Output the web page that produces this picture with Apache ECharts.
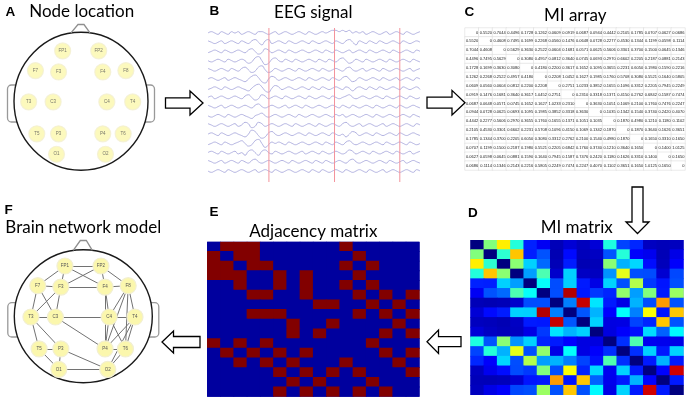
<!DOCTYPE html>
<html><head><meta charset="utf-8">
<script src="https://cdn.jsdelivr.net/npm/echarts@6/dist/echarts.min.js"></script>
<style>html,body{margin:0;padding:0;background:#fff}#c{width:686px;height:400px}</style>
</head><body><div id="c"></div>
<script>
// ---------------- data ----------------
const channels = ['FP1','FP2','F3','F4','C3','C4','P3','P4','O1','O2','F7','F8','T3','T4','T5','T6'];
// electrode positions on the head (head radius = 1, y up)
const nodeX = [-0.27, 0.26, -0.33, 0.32, -0.41, 0.38, -0.33, 0.32, -0.36, 0.36, -0.67, 0.66, -0.77, 0.76, -0.65, 0.62];
const nodeY = [ 0.74, 0.74,  0.43, 0.43, -0.01,-0.01, -0.48,-0.48, -0.78,-0.78,  0.45, 0.45, -0.01,-0.01, -0.48,-0.48];

// mutual information, upper triangle (row i, columns i+1..15)
const miUpper = [
 [0.5520,0.7044,0.4496,0.1728,0.1262,0.0609,0.0919,0.0687,0.0944,0.4442,0.2105,0.1785,0.0707,0.0627,0.0686],
 [0.4608,0.7495,0.1699,0.2268,0.0560,0.1476,0.0648,0.0728,0.2277,0.4530,0.1344,0.1199,0.0598,0.1114],
 [0.5629,0.3630,0.2522,0.0604,0.1681,0.0571,0.0625,0.5606,0.3301,0.3700,0.1500,0.0645,0.1346],
 [0.3080,0.4957,0.0812,0.3640,0.0745,0.0693,0.2970,0.6602,0.2205,0.2187,0.0881,0.2143],
 [0.4180,0.2200,0.3617,0.1652,0.1095,0.3655,0.2231,0.6050,0.1980,0.1590,0.2216],
 [0.2208,1.0452,0.1627,0.1985,0.1760,0.5708,0.3080,0.5521,0.1640,0.5805],
 [0.2751,1.0233,0.3852,0.1655,0.1096,0.3312,0.2205,0.7945,0.2249],
 [0.2310,0.3318,0.1371,0.4150,0.2762,0.6842,0.1587,0.7474],
 [0.3630,0.1051,0.1069,0.2100,0.1760,0.7476,0.2247],
 [0.1035,0.1342,0.1540,0.3740,0.2420,0.4070],
 [0.1870,0.4980,0.1210,0.1180,0.1102],
 [0.1870,0.3640,0.1626,0.3651],
 [0.1650,0.3310,0.1650],
 [0.1400,1.0125],
 [0.1650]
];

// binary adjacency matrix (thresholded MI)
const adjacency = [
 [0,1,1,1,0,0,0,0,0,0,1,0,0,0,0,0],
 [1,0,1,1,0,0,0,0,0,0,0,1,0,0,0,0],
 [1,1,0,1,1,0,0,0,0,0,1,0,1,0,0,0],
 [1,1,1,0,0,1,0,1,0,0,0,1,0,0,0,0],
 [0,0,1,0,0,1,0,1,0,0,1,0,1,0,0,0],
 [0,0,0,1,1,0,0,1,0,0,0,1,0,1,0,1],
 [0,0,0,0,0,0,0,0,1,1,0,0,1,0,1,0],
 [0,0,0,1,1,1,0,0,0,0,0,1,0,1,0,1],
 [0,0,0,0,0,0,1,0,0,1,0,0,0,0,1,0],
 [0,0,0,0,0,0,1,0,1,0,0,0,0,1,0,1],
 [1,0,1,0,1,0,0,0,0,0,0,0,1,0,0,0],
 [0,1,0,1,0,1,0,1,0,0,0,0,0,1,0,1],
 [0,0,1,0,1,0,1,0,0,0,1,0,0,0,1,0],
 [0,0,0,0,0,1,0,1,0,1,0,1,0,0,0,1],
 [0,0,0,0,0,0,1,0,1,0,0,0,1,0,0,0],
 [0,0,0,0,0,1,0,1,0,1,0,1,0,1,0,0]
];

// EEG traces (16 channels, 64 samples each)
const eeg0  = [0,1,0,-1,1,0,-1,1, 0,1,-1,0,1,0,-1,1, 1,0,-1,0,1,-1,0,1, 0,-1,0,1,0,-1,1,0, -1,0,1,0,1,2,2,1, 2,1,2,0,1,0,1,-1, 0,1,0,-1,0,1,-1,0, 1,0,-1,1,0,-1,0,1];
const eeg1  = [1,0,-1,0,1,-1,0,1, 0,-1,1,0,-1,1,2,0, -2,1,2,-1,0,1,0,-1, 1,0,-1,0,1,0,-1,1, 0,-1,0,1,0,-1,1,0, -1,1,2,0,-2,1,0,-1, 1,0,-1,1,0,-1,0,1, 0,-1,1,0,-1,0,1,0];
const eeg2  = [-1,0,1,0,-1,1,0,-1, 0,1,0,-1,1,2,0,-2, -1,2,1,-1,0,1,0,-1, 1,0,-1,0,1,0,-1,0, 1,0,-1,1,0,-1,1,0, -1,0,1,-1,0,1,0,-1, 1,0,-1,0,1,0,-1,1, 0,-1,0,1,0,-1,1,0];
const eeg3  = [0,-1,0,1,0,-1,1,0, -1,0,1,0,-2,-1,2,3, 0,-3,-2,1,2,0,-1,1, 0,-1,1,0,-1,0,1,0, -1,1,0,-1,1,0,-1,1, 2,0,-2,-1,1,0,-1,1, 0,-1,0,1,0,-1,1,0, -1,0,1,0,-1,1,0,-1];
const eeg4  = [1,0,-1,0,1,0,-1,1, 0,-1,1,2,0,-2,-1,2, 3,0,-2,-1,1,0,-1,0, 1,0,-1,1,0,-1,0,1, 0,-1,1,0,-1,0,1,0, -1,1,2,0,-1,0,1,-1, 0,1,0,-1,1,0,-1,0, 1,0,-1,0,1,-1,0,1];
const eeg5  = [0,1,0,-1,0,1,-1,0, 1,0,-1,-2,0,2,3,1, -2,-3,0,2,1,-1,0,1, 0,-1,0,1,0,-1,1,0, -1,0,1,0,-1,1,0,-1, 1,2,0,-2,-1,1,0,-1, 0,1,0,-1,1,0,-1,0, 1,-1,0,1,0,-1,1,0];
const eeg6  = [-1,0,1,0,-1,1,0,-1, 0,1,0,-1,-2,0,2,3, 1,-2,-3,0,2,1,-1,0, 1,0,-1,0,1,0,-1,1, 0,-1,1,0,-1,0,1,0, -1,1,0,-2,0,1,0,-1, 1,0,-1,1,0,-1,0,1, 0,-1,1,0,-1,0,1,-1];
const eeg7  = [0,1,-1,0,1,0,-1,0, 1,0,-1,1,2,0,-2,-1, 2,1,-1,0,1,0,-1,1, 0,-1,0,1,0,-1,1,0, -1,0,1,0,-1,1,0,-1, 0,1,2,0,-1,0,1,0, -1,0,1,0,-1,1,0,-1, 0,1,0,-1,1,0,-1,0];
const eeg8  = [1,0,-1,0,1,-1,0,1, 0,-1,0,1,0,-1,1,2, 0,-1,0,1,0,-1,0,1, -1,0,1,0,-1,1,0,-1, 0,1,0,-1,0,1,0,-1, 1,0,-1,1,0,-1,0,1, 0,-1,1,0,-1,0,1,0, -1,1,0,-1,0,1,0,-1];
const eeg9  = [0,-1,0,1,0,-1,1,0, -1,0,1,0,-1,-2,0,1, 2,0,-1,0,1,0,-1,0, 1,0,-1,1,0,-1,0,1, 0,-1,0,1,0,-1,1,0, 1,-1,0,1,0,-1,0,1, 0,-1,1,0,-1,0,1,0, -1,0,1,0,-1,1,0,-1];
const eeg10 = [1,0,-1,0,1,0,-1,0, 1,-1,0,2,1,-2,-1,2, 1,-1,0,1,0,-1,0,1, 0,-1,1,0,-1,0,1,0, -1,1,0,-1,0,1,0,-1, 1,2,0,-1,0,1,-1,0, 1,0,-1,0,1,-1,0,1, 0,-1,0,1,0,-1,1,0];
const eeg11 = [0,1,0,-1,1,0,-1,0, 1,0,-1,-2,0,3,2,-1, -3,-2,1,2,0,-1,0,1, 0,-1,0,1,0,-1,1,0, -1,0,1,0,-1,1,0,-1, 0,-2,0,2,1,-1,0,1, 0,-1,1,0,-1,0,1,0, -1,1,0,-1,0,1,0,-1];
const eeg12 = [-1,0,1,0,-1,1,0,-1, 0,1,2,0,-2,-1,2,3, 0,-3,-1,1,0,1,0,-1, 1,0,-1,0,1,0,-1,0, 1,0,-1,1,0,-1,1,0, -1,1,2,0,-1,0,1,0, -1,0,1,0,-1,1,0,-1, 0,1,0,-1,1,0,-1,0];
const eeg13 = [0,1,0,-1,1,0,-1,0, 1,-1,0,-2,1,2,0,-2, 1,2,0,-1,1,0,-1,0, 1,0,-1,0,1,-1,0,1, 0,-1,1,0,-1,0,1,0, -1,0,2,1,-1,0,1,0, -1,1,0,-1,0,1,0,-1, 1,0,-1,0,1,-1,0,1];
const eeg14 = [1,0,-1,0,1,-1,0,1, 0,-1,1,0,-1,1,2,0, -1,0,1,0,-1,0,1,0, -1,1,0,-1,0,1,0,-1, 1,0,-1,1,0,-1,0,1, 0,-1,1,2,0,-1,0,1, 0,-1,0,1,0,-1,1,0, -1,0,1,-1,0,1,0,-1];
const eeg15 = [0,-1,0,1,0,-1,1,0, -1,0,1,0,-1,0,1,-1, 0,1,0,-1,1,0,-1,0, 1,0,-1,0,1,0,-1,1, 0,-1,1,0,-1,0,1,0, -1,1,0,-1,0,1,0,-1, 1,0,-1,0,1,-1,0,1, 0,-1,0,1,0,-1,1,0];
const eegTraces = [eeg0,eeg1,eeg2,eeg3,eeg4,eeg5,eeg6,eeg7,eeg8,eeg9,eeg10,eeg11,eeg12,eeg13,eeg14,eeg15];
// epoch boundaries (sample index)
const epochMarks = [18.1, 37.6, 57.0];

const titles = ['Node location','EEG signal','MI array','MI matrix','Adjacency matrix','Brain network model'];
const panelLetters = ['A','B','C','D','E','F'];

// ---------------- build ----------------
const N = channels.length;
const mi = channels.map(() => new Array(N).fill(0));
miUpper.forEach((row, i) => row.forEach((v, k) => { const j = i + 1 + k; mi[i][j] = v; mi[j][i] = v; }));
const tableCells = [], miCells = [], adjCells = [];
for (let i = 0; i < N; i++) for (let j = 0; j < N; j++) {
  tableCells.push([j, i, mi[i][j]]);
  miCells.push([j, i, mi[i][j]]);
  adjCells.push([j, i, adjacency[i][j]]);
}
const links = [];
for (let i = 0; i < N; i++) for (let j = i + 1; j < N; j++) if (adjacency[i][j]) links.push({source: i, target: j});
const nodesA = channels.map((n, i) => ({name: n, value: [nodeX[i], nodeY[i]]}));
const nodesF = channels.map((n, i) => ({name: n, value: [nodeX[i], nodeY[i]]}));

const grids = [], xAxes = [], yAxes = [], series = [];
function addGrid(g, xa, ya) { grids.push(g); xAxes.push(Object.assign({gridIndex: grids.length - 1, show: false}, xa)); yAxes.push(Object.assign({gridIndex: grids.length - 1, show: false}, ya)); return grids.length - 1; }

const nodeStyle = {color: '#fbf7ad', borderColor: '#f2efd2', borderWidth: 1.2};
const nodeLabel = {show: true, position: 'inside', fontSize: 4.5, color: '#555', fontFamily: 'Liberation Sans, sans-serif'};

// A: node location
const gA = addGrid({left: 13, top: 33.2, width: 136, height: 136}, {type: 'value', min: -1, max: 1}, {type: 'value', min: -1, max: 1});
series.push({type: 'scatter', xAxisIndex: gA, yAxisIndex: gA, symbolSize: 16, data: nodesA, itemStyle: nodeStyle, label: Object.assign({}, nodeLabel, {formatter: p => p.name}), silent: true, z: 5});

// F: brain network
const gF = addGrid({left: 15.3, top: 248.3, width: 136, height: 136}, {type: 'value', min: -1, max: 1}, {type: 'value', min: -1, max: 1});
series.push({type: 'graph', coordinateSystem: 'cartesian2d', xAxisIndex: gF, yAxisIndex: gF, data: nodesF, links: links,
  symbolSize: 16, itemStyle: nodeStyle, label: nodeLabel, lineStyle: {color: '#727272', width: 1, opacity: 1}, silent: true, z: 5});

// B: EEG traces
eegTraces.forEach((tr, i) => {
  const cy = 33 + 9.2 * i;
  const g = addGrid({left: 208, top: cy - 8, width: 212, height: 16}, {type: 'value', min: 0, max: 63}, {type: 'value', min: -6, max: 6});
  series.push({type: 'line', xAxisIndex: g, yAxisIndex: g, data: tr.map((v, k) => [k, v]), showSymbol: false, smooth: 0.5,
    lineStyle: {color: '#a9a9dc', width: 0.9}, silent: true, z: 4});
});
// epoch boundary lines, one series per boundary spanning the full panel height
const gB = addGrid({left: 208, top: 28, width: 212, height: 154}, {type: 'value', min: 0, max: 63}, {type: 'value', min: 0, max: 1});
epochMarks.forEach(x => {
  series.push({type: 'line', xAxisIndex: gB, yAxisIndex: gB, data: [[x, 0], [x, 1]], showSymbol: false, silent: true, z: 6,
    lineStyle: {color: '#f3939c', width: 1}, itemStyle: {color: '#f3939c'}});
});

// C: MI array (table)
const catX = {type: 'category', data: channels}, catY = {type: 'category', data: channels, inverse: true};
const gC = addGrid({left: 465, top: 28, width: 220, height: 142}, catX, catY);
series.push({type: 'heatmap', xAxisIndex: gC, yAxisIndex: gC, data: tableCells, silent: true,
  itemStyle: {color: '#ffffff', borderColor: '#d6d6d6', borderWidth: 0.5},
  label: {show: true, position: 'insideRight', distance: 1, fontSize: 4, color: '#1a1a1a',
    fontFamily: 'Liberation Sans, Arial, sans-serif',
    formatter: p => p.value[2] === 0 ? '0' : p.value[2].toFixed(4)}});

// cells drawn through the category axes; slightly overlapped to avoid hairline seams
function cellItem(params, api) {
  const p = api.coord([api.value(0), api.value(1)]);
  const s = api.size([1, 1]);
  return {type: 'rect', shape: {x: p[0] - s[0] / 2 - 0.4, y: p[1] - s[1] / 2 - 0.4, width: s[0] + 0.8, height: s[1] + 0.8},
    style: {fill: api.visual('color'), stroke: null}};
}
// D: MI matrix
const gD = addGrid({left: 470.7, top: 240, width: 212.6, height: 155, show: true, backgroundColor: '#0000c8', borderWidth: 0}, catX, catY);
const sD = series.length;
series.push({type: 'custom', xAxisIndex: gD, yAxisIndex: gD, data: miCells, encode: {x: 0, y: 1}, renderItem: cellItem, silent: true, clip: true});

// E: adjacency
const gE = addGrid({left: 207.3, top: 241.7, width: 212, height: 155, show: true, backgroundColor: '#00009e', borderWidth: 0}, catX, catY);
const sE = series.length;
series.push({type: 'custom', xAxisIndex: gE, yAxisIndex: gE, data: adjCells, encode: {x: 0, y: 1}, renderItem: cellItem, silent: true, clip: true});

// ---------------- decorations ----------------
function arrowH(x0, xb, tip, cy, hs, hh) {
  return {type: 'polygon', shape: {points: [[x0, cy - hs], [xb, cy - hs], [xb, cy - hh], [tip, cy], [xb, cy + hh], [xb, cy + hs], [x0, cy + hs]]},
    style: {fill: '#fff', stroke: '#000', lineWidth: 1.3}, z: 10};
}
function arrowV(cx, y0, yb, tip, hs, hh) {
  return {type: 'polygon', shape: {points: [[cx - hs, y0], [cx - hs, yb], [cx - hh, yb], [cx, tip], [cx + hh, yb], [cx + hs, yb], [cx + hs, y0]]},
    style: {fill: '#fff', stroke: '#000', lineWidth: 1.3}, z: 10};
}
function head(cx, cy, rx, ry, noseTop, earTop, earBot) {
  const gray = {fill: '#fff', stroke: '#999999', lineWidth: 1.3};
  return [
    {type: 'rect', shape: {x: cx - rx - 6.5, y: earTop, width: 14, height: earBot - earTop, r: 4}, style: gray, z: 0},
    {type: 'rect', shape: {x: cx + rx - 7.5, y: earTop, width: 14, height: earBot - earTop, r: 4}, style: gray, z: 0},
    {type: 'ellipse', shape: {cx: cx, cy: cy, rx: rx, ry: ry}, style: {fill: '#fff', stroke: '#1a1a1a', lineWidth: 1.4}, z: 1},
    {type: 'polyline', shape: {points: [[cx - 10, cy - ry + 0.6], [cx - 3, noseTop], [cx + 3, noseTop], [cx + 9, cy - ry + 0.6]]},
      style: {stroke: '#8f8f8f', lineWidth: 1.3, fill: 'none'}, z: 2}
  ];
}
function txt(t, x, y, size, bold, align, family) {
  return {type: 'text', x: x, y: y, z: 10, style: {text: t, fontSize: size, fontWeight: bold ? 'bold' : 'normal',
    fontFamily: family, fill: '#000', textAlign: align, align: align, textVerticalAlign: 'middle', verticalAlign: 'middle'}};
}
const LET = 'Liberation Sans, Arial, sans-serif', TIT = 'Lato, Open Sans, sans-serif';
const graphics = [].concat(
  head(81, 101.2, 67, 69, 24.5, 85, 122),
  head(83.3, 316.3, 69, 66.5, 240.5, 302.7, 337),
  [
    arrowH(165.5, 190, 203, 103, 5.2, 12),
    arrowH(427, 452, 465, 102.7, 5.5, 12.3),
    arrowV(637.5, 187, 222, 233.5, 5.5, 11.5),
    arrowH(461, 438.5, 427, 341.7, 5, 11.7),
    arrowH(200, 173.5, 162, 342, 5.5, 11),
    txt(panelLetters[0], 5.5, 11.8, 13.5, true, 'left', LET),
    txt(panelLetters[1], 209.5, 11.5, 13.5, true, 'left', LET),
    txt(panelLetters[2], 464.5, 11.8, 13.5, true, 'left', LET),
    txt(panelLetters[3], 468, 213, 13.5, true, 'left', LET),
    txt(panelLetters[4], 209.5, 212.5, 13.5, true, 'left', LET),
    txt(panelLetters[5], 4.5, 210, 13.5, true, 'left', LET),
    txt(titles[0], 81.7, 11.8, 17, false, 'center', TIT),
    txt(titles[1], 313.3, 12.8, 17, false, 'center', TIT),
    txt(titles[2], 575.3, 15.2, 17, false, 'center', TIT),
    txt(titles[3], 576.7, 228, 17, false, 'center', TIT),
    txt(titles[4], 313.3, 231.3, 17, false, 'center', TIT),
    txt(titles[5], 83.3, 227.2, 17, false, 'center', TIT)
  ]
);

const jet = ['#00007f', '#0000ff', '#007fff', '#00ffff', '#7fff7f', '#ffff00', '#ff7f00', '#ff0000', '#7f0000'];
const chart = echarts.init(document.getElementById('c'), null, {renderer: 'canvas'});
chart.setOption({
  animation: false,
  backgroundColor: '#ffffff',
  grid: grids, xAxis: xAxes, yAxis: yAxes,
  visualMap: [
    {type: 'continuous', seriesIndex: sD, dimension: 2, min: 0, max: 1.1, show: false, calculable: false, inRange: {color: jet}},
    {type: 'piecewise', seriesIndex: sE, dimension: 2, show: false, pieces: [{value: 0, color: '#00009e'}, {value: 1, color: '#820000'}]}
  ],
  graphic: {elements: graphics},
  series: series
});
</script></body></html>
